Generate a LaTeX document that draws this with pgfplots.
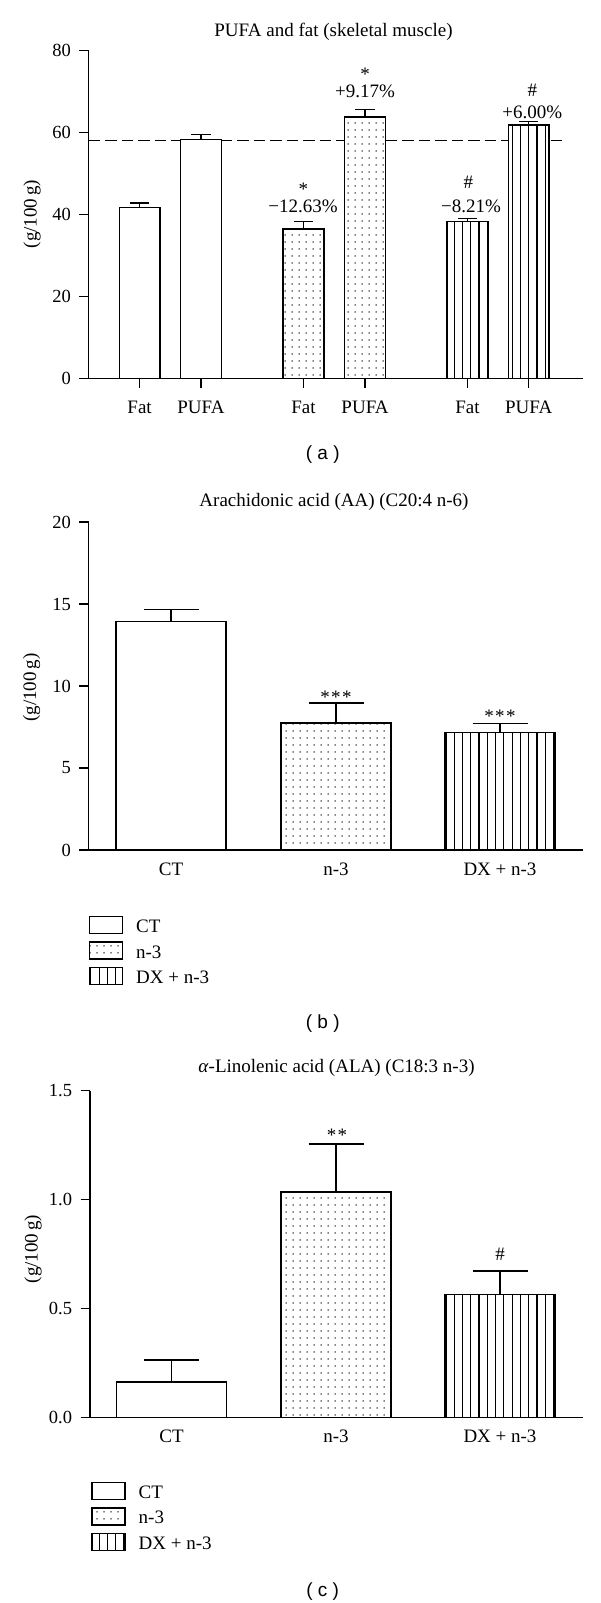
\documentclass[border=0pt]{standalone}
\usepackage{pgfplots}
\pgfplotsset{compat=1.18}
\usepackage{fontspec}
\setmainfont{Liberation Serif}
\newfontfamily\sansf{Liberation Sans}
\usetikzlibrary{patterns.meta}
\newcommand\fs{\fontsize{19}{23}\selectfont}
\newcommand\fst{\fontsize{18.5}{22}\selectfont}
\pgfplotsset{
  myaxis/.style={
    scale only axis, anchor=south west,
    axis x line*=bottom, axis y line*=left,
    axis line style={line width=1.5pt, black},
    ymin=0, xmin=88.7, xmax=583,
    tick align=outside, major tick length=9.4pt,
    tick style={line width=1.5pt, black},
    /pgf/number format/assume math mode=true,
    xticklabel style={font=\fs},
    yticklabel style={font=\fst, xshift=-5pt},
    ybar, bar shift=0pt, clip=false,
  },
  ct/.style={draw=black, line width=1.4pt, fill=white, bar shift=0pt},
  nn/.style={draw=black, line width=1.4pt, fill=white, bar shift=0pt, postaction={pattern={Dots[distance=6.5pt, radius=0.8pt]}}},
  dx/.style={draw=black, line width=1.4pt, fill=white, bar shift=0pt, postaction={pattern={Lines[angle=90, distance=8.26pt, line width=1.2pt]}}},
  errs/.style={error bars/.cd, y dir=plus, y explicit, error bar style={line width=1.4pt, black}, error mark options={rotate=90, mark size=#1, line width=1.4pt, black}},
  leg/.style={
    legend style={at={(axis description cs:#1)}, anchor=north west, draw=none, fill=none, inner sep=0pt, outer sep=0pt, row sep=7pt, font=\fs, nodes={inner sep=0pt}, cells={anchor=west}, /tikz/every odd column/.append style={column sep=13pt}},
    legend image code/.code={\draw[##1, line width=1.4pt] (0pt,-6.5pt) rectangle (33pt,10.5pt);},
  },
}
\begin{document}
\begin{tikzpicture}[x=1pt,y=1pt]
\useasboundingbox (0,0) rectangle (600,-1603);

% ---------- panel a ----------
\begin{axis}[myaxis, at={(88.7pt,-378.3pt)}, width=494.3pt, height=327.6pt,
  ymax=80, ytick={0,20,40,60,80}, xmax=582,
  xtick={139.5,200.7,303,364.5,466.7,527.8},
  xticklabels={Fat,PUFA,Fat,PUFA,Fat,PUFA},
  xticklabel style={yshift=-10pt}]
\addplot[sharp plot, black, line width=1.3pt, dash pattern=on 11.5pt off 5pt, forget plot] coordinates {(88.7,58) (562.7,58)};
\addplot[ct, bar width=40.7, errs=9.7pt] coordinates {(139.5,41.76) +- (0,1.04) (200.7,58.36) +- (0,1.13)};
\addplot[nn, bar width=40.7, errs=9.7pt] coordinates {(303,36.46) +- (0,1.78) (364.5,63.81) +- (0,1.79)};
\addplot[dx, bar width=40.7, errs=9.7pt] coordinates {(466.7,38.34) +- (0,0.73) (527.8,61.86) +- (0,0.80)};
\end{axis}

% ---------- panel b ----------
\begin{axis}[myaxis, leg={0,-0.201}, at={(88.7pt,-850pt)}, width=494.3pt, height=328pt,
  ymax=20, ytick={0,5,10,15,20},
  xtick={171,336,500}, xticklabels={CT,n-3,DX + n-3},
  x tick style={draw=none}]
\addplot[ct, bar width=110, errs=27.5pt] coordinates {(171,13.95) +- (0,0.70)};
\addplot[nn, bar width=110, errs=27.5pt] coordinates {(336,7.75) +- (0,1.22)};
\addplot[dx, bar width=110, errs=27.5pt] coordinates {(500,7.16) +- (0,0.55)};
\legend{CT,n-3,DX + n-3}
\end{axis}

% ---------- panel c ----------
\begin{axis}[myaxis, leg={0.0026,-0.197}, at={(90pt,-1417.3pt)}, width=493pt, height=326.8pt,
  xmin=90, ymax=1.5, ytick={0,0.5,1,1.5},
  yticklabel style={/pgf/number format/.cd, fixed, fixed zerofill, precision=1},
  xtick={171.5,336,500}, xticklabels={CT,n-3,DX + n-3},
  x tick style={draw=none}]
\addplot[ct, bar width=110, errs=27.5pt] coordinates {(171.5,0.162) +- (0,0.102)};
\addplot[nn, bar width=110, errs=27.5pt] coordinates {(336,1.035) +- (0,0.22)};
\addplot[dx, bar width=110, errs=27.5pt] coordinates {(500,0.564) +- (0,0.107)};
\legend{CT,n-3,DX + n-3}
\end{axis}

% ---------- texts ----------
\node[font=\fs] at (333.5,-31.7) {PUFA and fat (skeletal muscle)};
\node[font=\fs] at (334,-501.7) {Arachidonic acid (AA) (C20:4 n-6)};
\node[font=\fs] at (336.5,-1068.3) {\textit{α}-Linolenic acid (ALA) (C18:3 n-3)};
\node[font=\fs, rotate=90] at (32,-214) {(g/100\,g)};
\node[font=\fs, rotate=90] at (31.7,-687.5) {(g/100\,g)};
\node[font=\fs, rotate=90] at (33,-1249) {(g/100\,g)};
\node[font=\sansf\fontsize{19}{23}\selectfont] at (322.7,-455) {( a )};
\node[font=\sansf\fontsize{19}{23}\selectfont] at (322.7,-1023.3) {( b )};
\node[font=\sansf\fontsize{19}{23}\selectfont] at (322.7,-1591.3) {( c )};
% annotations a
\node[font=\fs] at (303.3,-189) {*};
\node[font=\fs] at (303,-206.7) {−12.63\%};
\node[font=\fs] at (365,-74) {*};
\node[font=\fs] at (365,-91.7) {+9.17\%};
\node[font=\fs] at (468.3,-182.7) {\#};
\node[font=\fs] at (471,-206.7) {−8.21\%};
\node[font=\fs] at (532.3,-90) {\#};
\node[font=\fs] at (532.3,-112.7) {+6.00\%};
% annotations b, c
\node[font=\fs] at (336,-697) {*\kern1.5pt*\kern1.5pt*};
\node[font=\fs] at (500,-716) {*\kern1.5pt*\kern1.5pt*};
\node[font=\fs] at (337,-1135) {*\kern1.5pt*};
\node[font=\fs] at (500,-1254) {\#};
\end{tikzpicture}
\end{document}
